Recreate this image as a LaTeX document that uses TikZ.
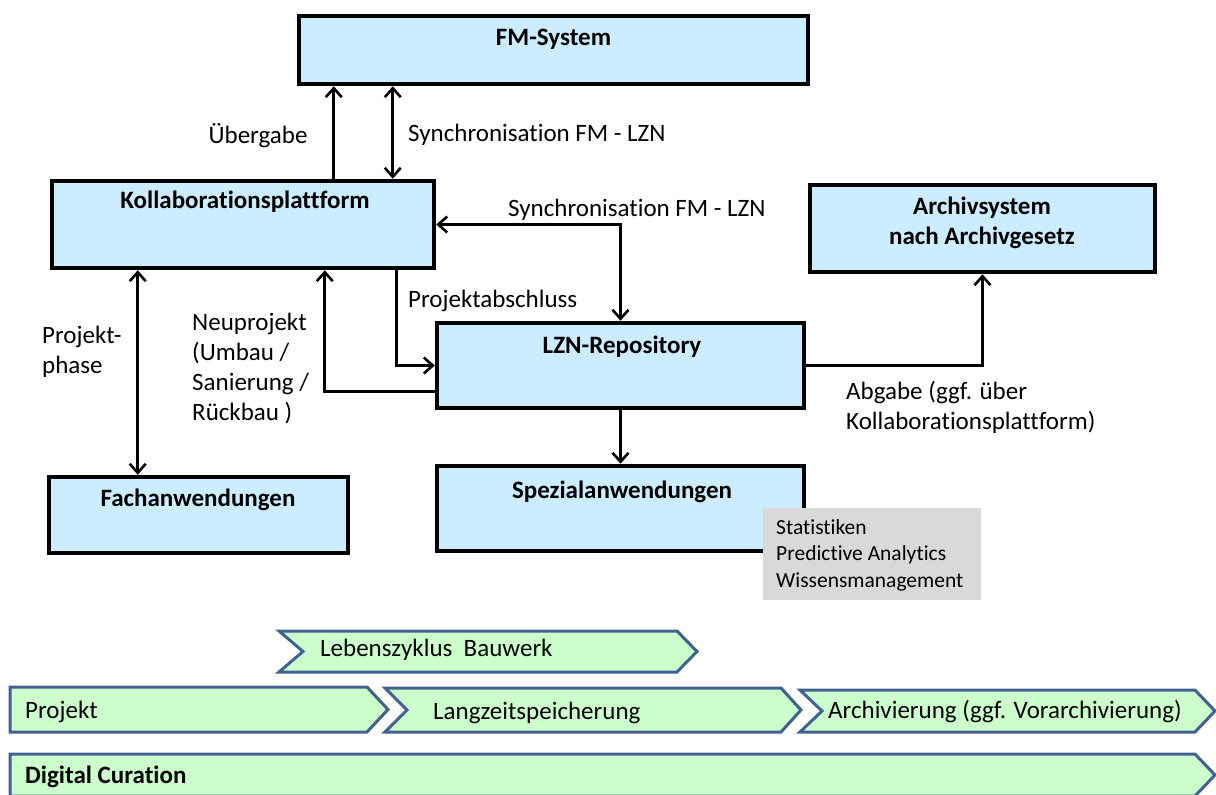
\documentclass[tikz,border=0pt]{standalone}
\usepackage{fontspec}
\setmainfont{Carlito}[Ligatures=NoCommon]
\usetikzlibrary{arrows.meta}
\definecolor{boxfill}{RGB}{204,236,255}
\definecolor{chevfill}{RGB}{204,255,204}
\definecolor{chevline}{RGB}{65,98,145}
\definecolor{greyfill}{RGB}{217,217,217}
\tikzset{
  box/.style={draw=black, line width=4.5pt, fill=boxfill, rectangle, inner sep=0pt},
  boxtext/.style={font=\fontsize{25}{30}\selectfont\bfseries, anchor=base, inner sep=0pt, align=center},
  lbl/.style={font=\fontsize{25}{30}\selectfont, inner sep=0pt},
  conn/.style={line width=2.6pt, -{Straight Barb[length=9pt,width=16pt,line width=2.6pt]}},
  bconn/.style={line width=2.6pt, {Straight Barb[length=9pt,width=16pt,line width=2.6pt]}-{Straight Barb[length=9pt,width=16pt,line width=2.6pt]}},
  chev/.style={draw=chevline, line width=3pt, fill=chevfill, line join=miter},
  chevtxt/.style={font=\fontsize{25}{30}\selectfont, anchor=base west, inner sep=0pt},
}
\begin{document}
\begin{tikzpicture}[x=1pt,y=-1pt]
\clip (0,0) rectangle (1216,795);
\fill[white] (0,0) rectangle (1216,795);

% boxes
\node[box, minimum width=509pt, minimum height=68pt] (fm) at (553.5,50) {};
\node[box, minimum width=382pt, minimum height=87pt] (kol) at (243,224.5) {};
\node[box, minimum width=345pt, minimum height=87pt] (arch) at (982.5,228.5) {};
\node[box, minimum width=367pt, minimum height=85pt] (lzn) at (620.5,365.5) {};
\node[box, minimum width=299pt, minimum height=76pt] (fach) at (198.5,515) {};
\node[box, minimum width=367pt, minimum height=85pt] (spez) at (620.5,508.5) {};

\node[boxtext] (fmt) at (553.5,45) {FM-System};
\node[boxtext] (kolt) at (245,208) {Kollaborationsplattform};
\node[boxtext] (archt1) at (982,214) {Archivsystem};
\node[boxtext] (archt2) at (982,244) {nach Archivgesetz};
\node[boxtext] (lznt) at (622,353) {LZN-Repository};
\node[boxtext] (facht) at (198,506) {Fachanwendungen};
\node[boxtext] (spezt) at (622,498) {Spezialanwendungen};

% grey note
\node[fill=greyfill, minimum width=218pt, minimum height=92pt, inner sep=0pt] (grey) at (872,554) {};
\node[font=\fontsize{21.5}{26.5}\selectfont, anchor=base west, inner sep=0pt, align=left] (greyt) at (776,587) {Statistiken\\Predictive Analytics\\Wissensmanagement};

% connectors
\draw[conn] ([xshift=284pt]kol.north west) -- ([xshift=284pt]kol.north west |- fm.south);
\draw[bconn] ([xshift=343pt]kol.north west) -- ([xshift=343pt]kol.north west |- fm.south);
\draw[bconn] (lzn.north) |- (kol.east);
\draw[conn] ([xshift=347pt]kol.south west) |- (lzn.west);
\draw[conn] ([yshift=-26pt]lzn.west) -| ([xshift=275pt]kol.south west);
\draw[bconn] ([xshift=88pt]kol.south west) -- ([xshift=88pt]kol.south west |- fach.north);
\draw[conn] (lzn.south) -- (spez.north);
\draw[conn] (lzn.east) -| (arch.south);

% connector labels
\node[lbl, anchor=base] (l1) at (258,143) {Übergabe};
\node[lbl, anchor=base west] (l2) at (408,141) {Synchronisation FM - LZN};
\node[lbl, anchor=base west] (l3) at (508,216) {Synchronisation FM - LZN};
\node[lbl, anchor=base west] (l4) at (408,307) {Projektabschluss};
\node[lbl, anchor=base west, align=left] (l5) at (192,420) {Neuprojekt\\(Umbau /\\Sanierung /\\Rückbau )};
\node[lbl, anchor=base west, align=left] (l6) at (42,373) {Projekt-\\phase};
\node[lbl, anchor=base west, align=left] (l7) at (846,429) {Abgabe (ggf. über\\Kollaborationsplattform)};

% chevrons
\draw[chev] (279,631) -- (677,631) -- (697,651.5) -- (677,672) -- (279,672) -- (303,651.5) -- cycle;
\draw[chev] (10,687) -- (367,687) -- (388,709.5) -- (367,732) -- (10,732) -- cycle;
\draw[chev] (385,688) -- (781,688) -- (801,710) -- (781,732) -- (385,732) -- (407,710) -- cycle;
\draw[chev] (800,690) -- (1195,690) -- (1215,711) -- (1195,732) -- (800,732) -- (822,711) -- cycle;
\draw[chev] (10,754) -- (1195,754) -- (1215,775) -- (1195,796) -- (10,796) -- cycle;

\node[chevtxt] (c1) at (320,656) {Lebenszyklus\ \ Bauwerk};
\node[chevtxt] (c2) at (25,718) {Projekt};
\node[chevtxt] (c3) at (433,719) {Langzeitspeicherung};
\node[chevtxt] (c4) at (828,718) {Archivierung (ggf. Vorarchivierung)};
\node[chevtxt, font=\fontsize{25}{30}\selectfont\bfseries] (c5) at (25,783) {Digital Curation};
\end{tikzpicture}
\end{document}
